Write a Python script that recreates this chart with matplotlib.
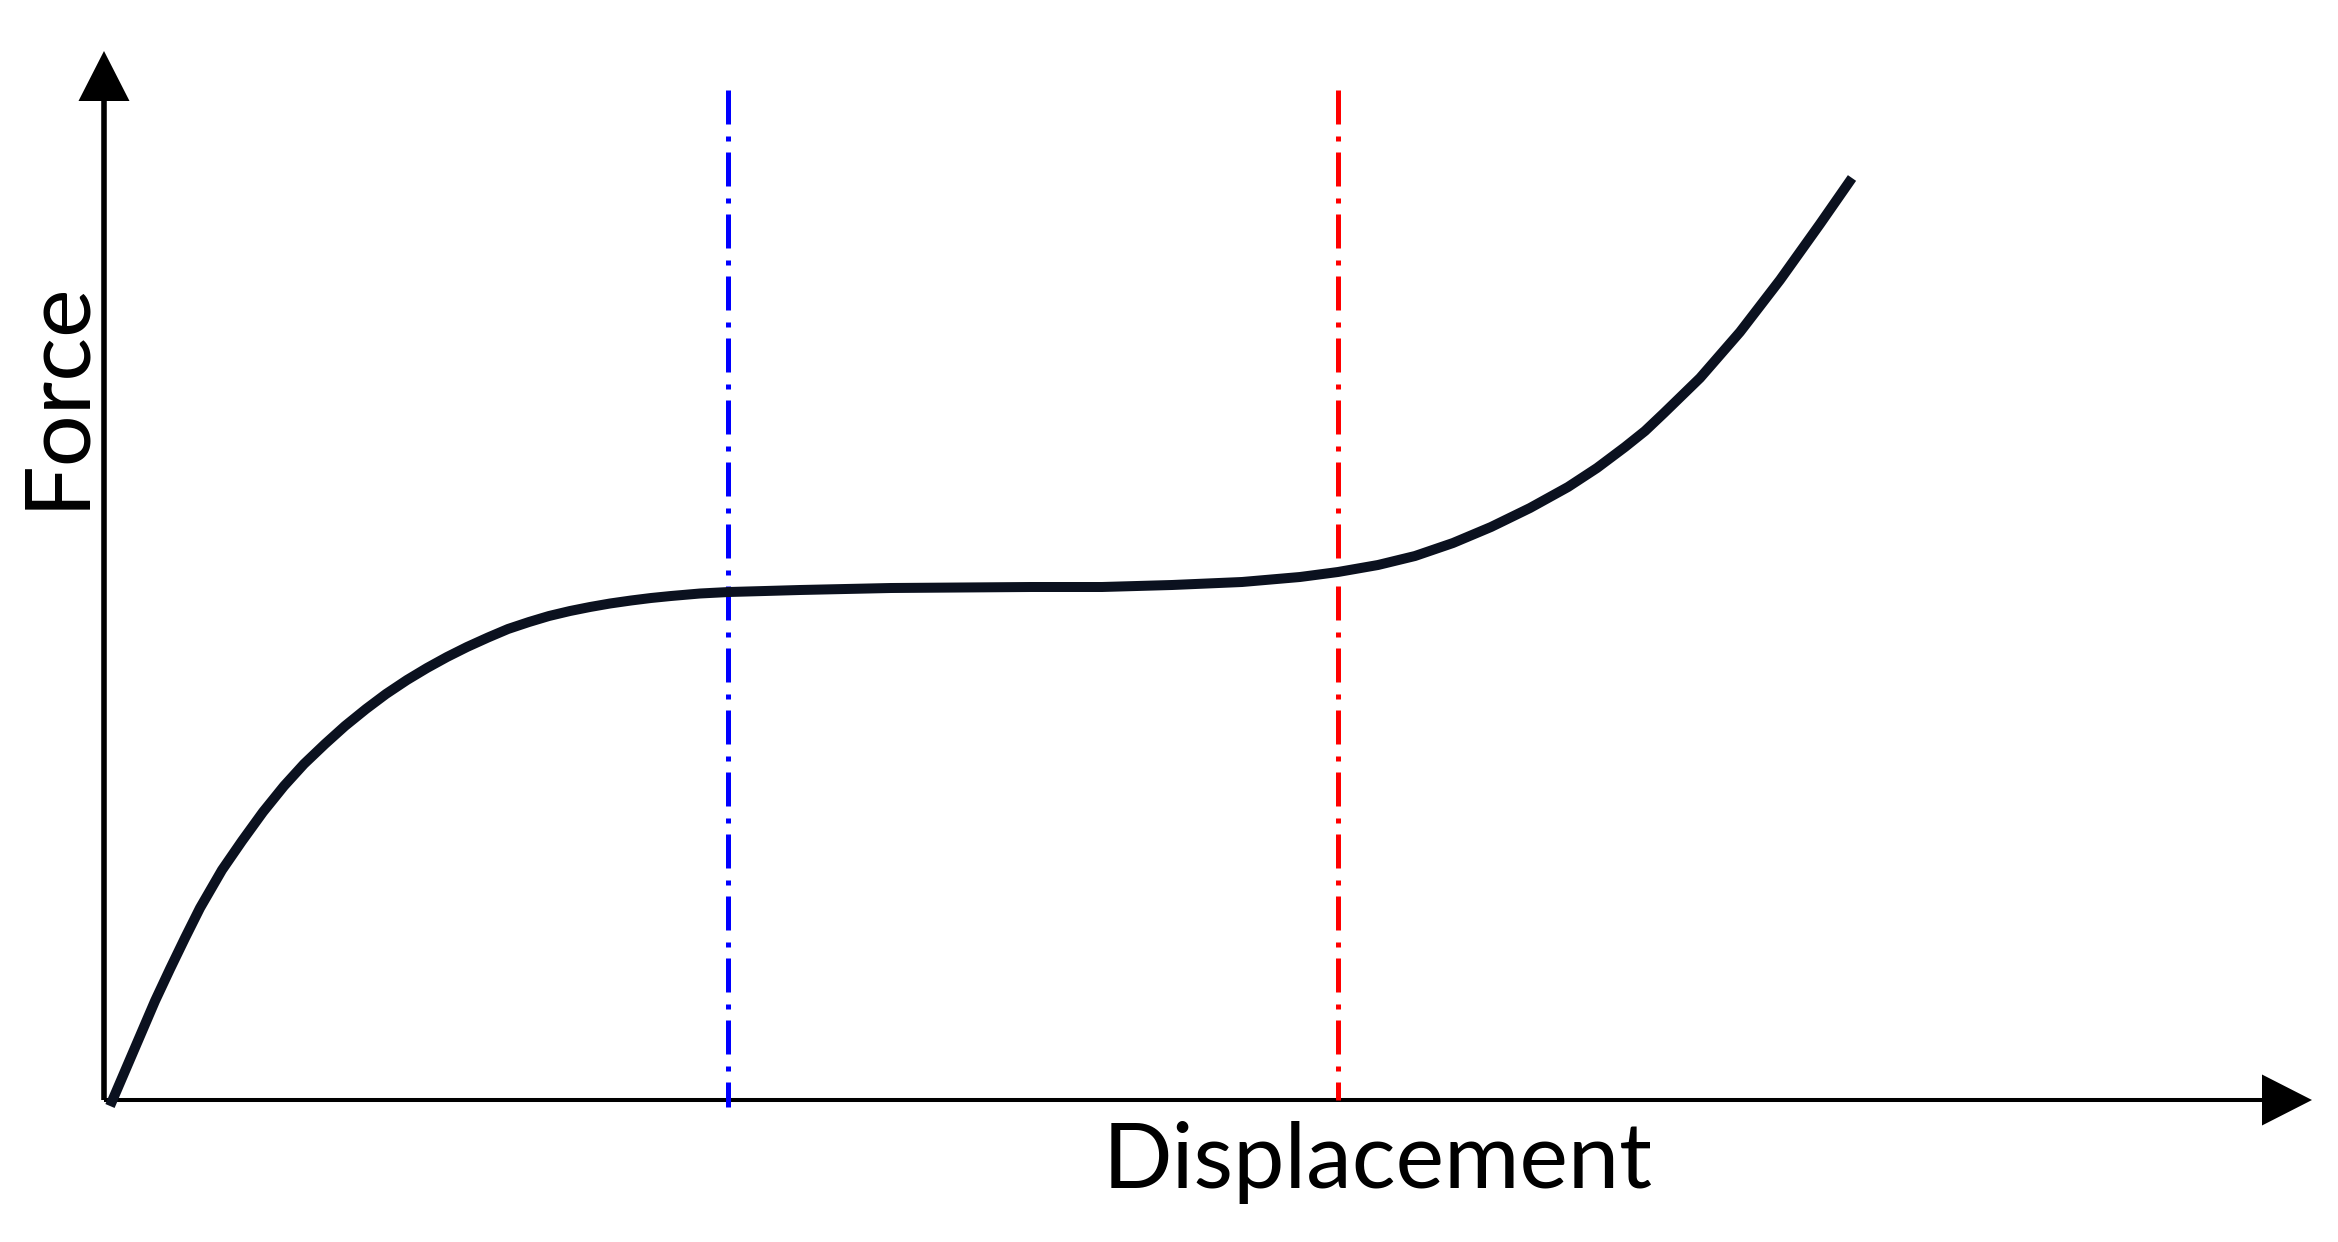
import matplotlib

matplotlib.use("Agg")
import matplotlib.pyplot as plt
from matplotlib.patches import Polygon

# force-displacement schematic (arbitrary units)
displacement = [0.06, 0.21, 0.36, 0.51, 0.66, 0.81, 0.96, 1.18, 1.38, 1.59, 1.80, 2.00,
                2.21, 2.41, 2.62, 2.82, 3.03, 3.23, 3.43, 3.63, 3.84, 4.04, 4.25, 4.45,
                4.66, 4.86, 5.06, 5.27, 5.47, 5.67, 5.96, 6.25, 6.61, 6.96, 7.87, 9.27,
                9.98, 10.68, 11.38, 11.96, 12.34, 12.74, 13.11, 13.49, 13.87, 14.26,
                14.64, 14.93, 15.21, 15.41, 15.60, 15.96, 16.36, 16.76, 17.16, 17.48]
force = [-0.06, 0.29, 0.64, 0.99, 1.31, 1.62, 1.92, 2.30, 2.59, 2.88, 3.14, 3.36,
         3.56, 3.74, 3.91, 4.06, 4.20, 4.32, 4.43, 4.53, 4.625, 4.71, 4.78, 4.84,
         4.89, 4.93, 4.965, 4.995, 5.02, 5.04, 5.065, 5.08, 5.09, 5.10, 5.12, 5.13,
         5.13, 5.15, 5.18, 5.23, 5.28, 5.35, 5.44, 5.57, 5.73, 5.92,
         6.13, 6.32, 6.53, 6.69, 6.87, 7.22, 7.68, 8.20, 8.76, 9.22]

marker_x = [6.24, 12.34]
marker_colors = ["#0000ff", "#ff0000"]
marker_bottom = [-0.07, 0.0]
marker_top = 10.10

x_axis_end = 22.08
y_axis_end = 10.49
head_len = 0.50
head_half = 0.255

x_label = "Displacement"
y_label = "Force"

fig = plt.figure(figsize=(23.38, 12.42), dpi=100)
ax = fig.add_axes([0, 0, 1, 1])
ax.set_xlim(-1.04, 22.34)
ax.set_ylim(-1.42, 11.00)
ax.axis("off")

# axes with arrow heads
ax.plot([0, x_axis_end - head_len], [0, 0], color="black", lw=2.9, solid_capstyle="butt")
ax.plot([0, 0], [0, y_axis_end - head_len], color="black", lw=4.0, solid_capstyle="butt")
ax.add_patch(Polygon([(x_axis_end, 0), (x_axis_end - head_len, head_half),
                      (x_axis_end - head_len, -head_half)], closed=True,
                     facecolor="black", edgecolor="none"))
ax.add_patch(Polygon([(0, y_axis_end), (-head_half, y_axis_end - head_len),
                      (head_half, y_axis_end - head_len)], closed=True,
                     facecolor="black", edgecolor="none"))

# dash-dot markers
for x, c, bottom in zip(marker_x, marker_colors, marker_bottom):
    ax.plot([x, x], [marker_top, bottom], color=c, lw=3.6,
            dashes=(6.8, 2.4, 1.0, 2.2), dash_capstyle="butt")

ax.plot(displacement, force, color="#0b111f", lw=7.2, solid_capstyle="butt",
        solid_joinstyle="round")

ax.text(12.74, -0.88, x_label, fontsize=66, family="Lato", ha="center",
        va="baseline", rotation_mode="anchor")
ax.text(-0.22, 7.06, y_label, fontsize=66, family="Lato", ha="center",
        va="baseline", rotation=90, rotation_mode="anchor")

fig.savefig("out.png", dpi=100, facecolor="white")
